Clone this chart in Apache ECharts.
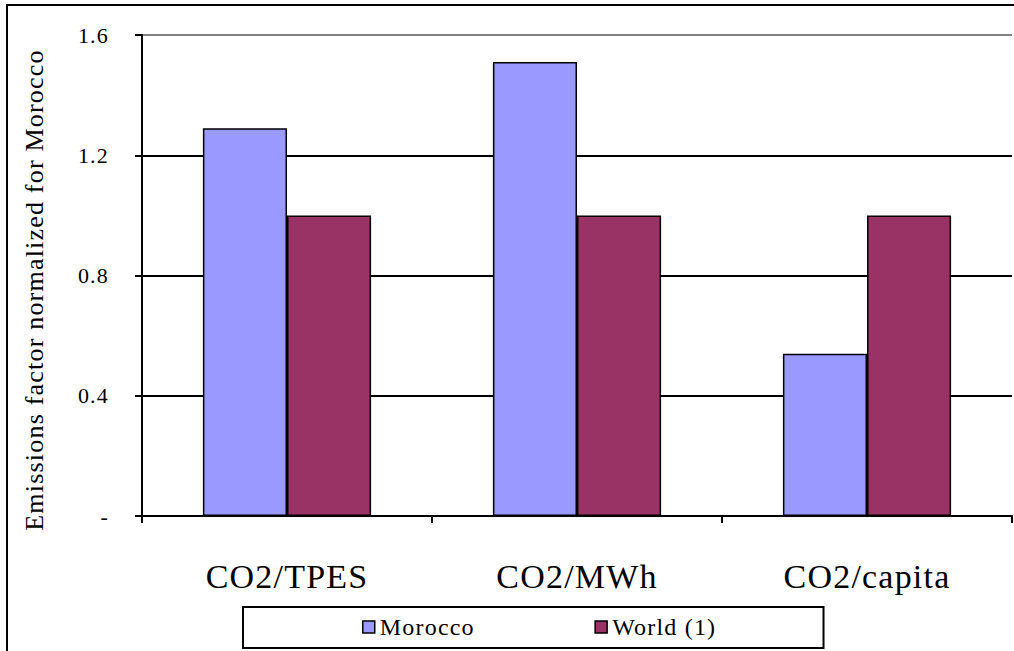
<!DOCTYPE html>
<html>
<head>
<meta charset="utf-8">
<script src="https://cdn.jsdelivr.net/npm/echarts@6/dist/echarts.min.js"></script>
<style>
  html, body { margin: 0; padding: 0; background: #fff; }
  #chart { width: 1014px; height: 651px; letter-spacing: 1.2px; }
</style>
</head>
<body>
<div id="chart"></div>
<script>
const categories = ['CO2/TPES', 'CO2/MWh', 'CO2/capita'];
const seriesNames = ['Morocco', 'World (1)'];
const moroccoValues = [1.29, 1.51, 0.54];
const worldValues = [1.0, 1.0, 1.0];
const yTickValues = [0, 0.4, 0.8, 1.2, 1.6];
const yTickLabels = ['-', '0.4', '0.8', '1.2', '1.6'];
const yAxisTitle = 'Emissions factor normalized for Morocco';

const FONT = 'Liberation Serif';
const chart = echarts.init(document.getElementById('chart'), null, { renderer: 'svg' });

const option = {
  backgroundColor: '#ffffff',
  animation: false,
  textStyle: { fontFamily: FONT, color: '#000' },
  grid: { left: 142, right: 2, top: 35, bottom: 135, containLabel: false },
  graphic: [
    {
      type: 'rect', silent: true, z: -1,
      shape: { x: 7, y: 5, width: 2000, height: 2000 },
      style: { fill: 'none', stroke: '#000', lineWidth: 2 }
    },
    {
      type: 'text', silent: true,
      x: 34, y: 290, rotation: Math.PI / 2,
      style: {
        text: yAxisTitle, fontFamily: FONT, fontSize: 26, fill: '#000',
        align: 'center', verticalAlign: 'middle'
      }
    }
  ],
  legend: {
    data: seriesNames,
    left: 243, top: 607,
    orient: 'horizontal',
    borderColor: '#000', borderWidth: 2,
    padding: [8, 118, 9, 119],
    itemWidth: 12, itemHeight: 12, itemGap: 128,
    icon: 'rect',
    itemStyle: { borderColor: '#000', borderWidth: 1.5 },
    textStyle: { fontFamily: FONT, fontSize: 24, color: '#000' }
  },
  xAxis: {
    type: 'category',
    data: categories,
    axisLine: { show: true, lineStyle: { color: '#000', width: 2 } },
    axisTick: { show: true, interval: 0, alignWithLabel: false, inside: false, length: 7, lineStyle: { color: '#000', width: 2 } },
    axisLabel: { fontFamily: FONT, fontSize: 34, color: '#000', margin: 43, interval: 0 },
    splitLine: { show: false }
  },
  yAxis: {
    type: 'value',
    min: 0, max: 1.6, interval: 0.4,
    axisLine: { show: true, lineStyle: { color: '#000', width: 2 } },
    axisTick: { show: true, inside: false, length: 7, lineStyle: { color: '#000', width: 2 } },
    axisLabel: {
      fontFamily: FONT, fontSize: 22, color: '#000', margin: 33,
      formatter: function (v) {
        const i = yTickValues.findIndex(t => Math.abs(t - v) < 1e-9);
        return i >= 0 ? yTickLabels[i] : '';
      }
    },
    splitLine: { show: true, lineStyle: { color: ['#000', '#000', '#000', '#000', '#808080'], width: 2 } }
  },
  series: [
    {
      name: seriesNames[0], type: 'bar', data: moroccoValues,
      barGap: '0%', barCategoryGap: '42%',
      itemStyle: { color: '#9999FF', borderColor: '#000', borderWidth: 1.5 }
    },
    {
      name: seriesNames[1], type: 'bar', data: worldValues,
      barGap: '0%', barCategoryGap: '42%',
      itemStyle: { color: '#993366', borderColor: '#000', borderWidth: 1.5 }
    }
  ]
};
chart.setOption(option);
</script>
</body>
</html>
